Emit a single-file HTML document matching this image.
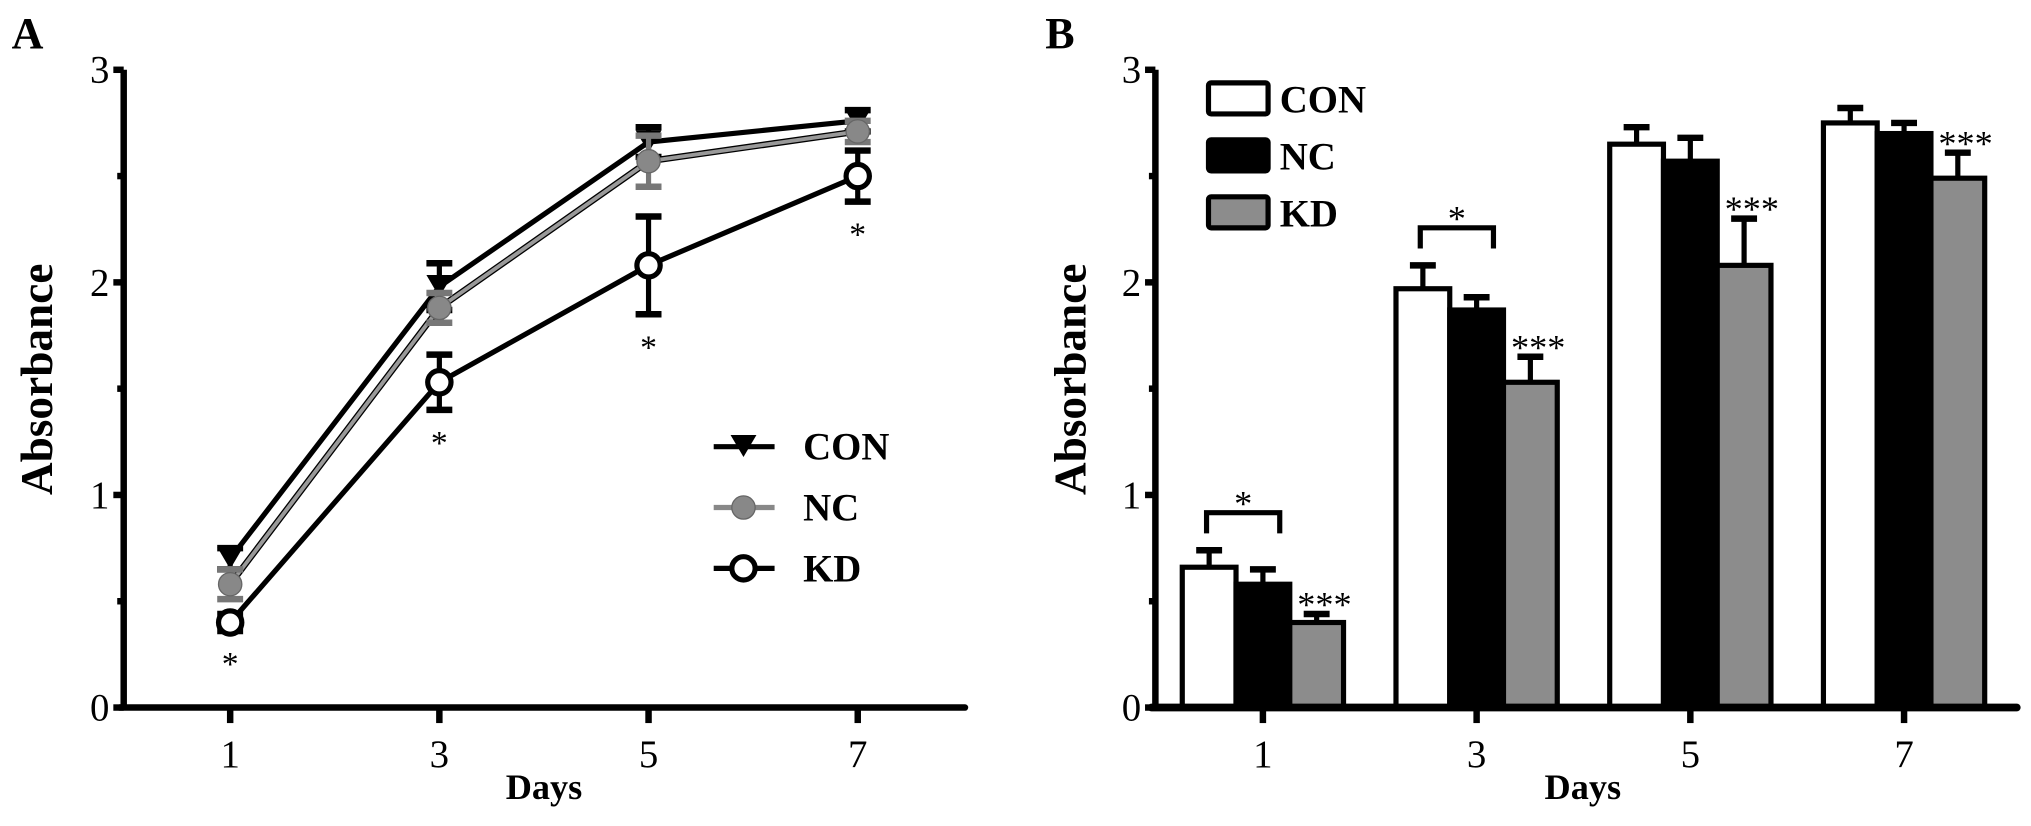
<!DOCTYPE html>
<html><head><meta charset="utf-8"><style>
html,body{margin:0;padding:0;background:#fff;}
svg{display:block;font-family:"Liberation Serif",serif;}
</style></head><body>
<svg id="fig" width="2031" height="826" viewBox="0 0 1568 638" preserveAspectRatio="none" xmlns="http://www.w3.org/2000/svg"></svg>
<script>
const days=[1,3,5,7];
const series=["CON","NC","KD"];
const conVals=[0.70,1.98,2.66,2.76];
const ncVals=[0.58,1.88,2.57,2.71];
const kdVals=[0.40,1.53,2.08,2.50];
const conErr=[0.05,0.11,0.07,0.05];
const ncErr=[0.07,0.07,0.12,0.05];
const kdErr=[0.04,0.13,0.23,0.12];
const barCon=[0.66,1.97,2.65,2.75];
const barNc=[0.58,1.87,2.57,2.70];
const barKd=[0.40,1.53,2.08,2.49];
const barConErr=[0.08,0.11,0.08,0.07];
const barNcErr=[0.07,0.06,0.11,0.05];
const barKdErr=[0.04,0.12,0.22,0.12];
const yTicks=[0,1,2,3];
const yMinor=[0.5,1.5,2.5];
const lineAsterisk=["*","*","*","*"];

const NS="http://www.w3.org/2000/svg";
const svg=document.getElementById('fig');
function mk(tag,attrs,parent){const e=document.createElementNS(NS,tag);for(const k in attrs)e.setAttribute(k,attrs[k]);(parent||svg).appendChild(e);return e;}
function txt(x,y,s,size,weight,anchor,parent){const t=mk('text',{x:x,y:y,'font-size':size,'font-weight':weight||'normal','text-anchor':anchor||'middle',fill:'#000'},parent);t.textContent=s;return t;}

const y0=546.5, unit=164.2;
function Y(v){return y0-v*unit;}
// Panel A
const axA=95.5;
function XA(d){return 177.7+(d-1)/2*161.5;}
const gA=mk('g',{});


const lblA=txt(9,37,"A",34,'bold','start',gA);


const yaxA=mk('line',{x1:axA,y1:Y(3),x2:axA,y2:y0+2,stroke:'#000','stroke-width':5},gA);


const xaxA=mk('line',{x1:axA-3,y1:y0,x2:745,y2:y0,stroke:'#000','stroke-width':5,'stroke-linecap':'round'},gA);


yTicks.forEach(v=>{mk('line',{x1:axA-8,y1:Y(v),x2:axA,y2:Y(v),stroke:'#000','stroke-width':5},gA);
 const t=txt(axA-11,Y(v)+10,String(v),30,'normal','end',gA);});
yMinor.forEach(v=>mk('line',{x1:axA-5,y1:Y(v),x2:axA,y2:Y(v),stroke:'#000','stroke-width':5},gA));
days.forEach(d=>{mk('line',{x1:XA(d),y1:y0,x2:XA(d),y2:y0+12,stroke:'#000','stroke-width':5},gA);
 const t=txt(XA(d),y0+46,String(d),30,'normal','middle',gA);});
const xtA=txt(420,617,"Days",28,'bold','middle',gA);


const ytA=txt(0,0,"Absorbance",35,'bold','middle',gA);
ytA.setAttribute('transform','translate(40,293) rotate(-90)');



function errBar(x,v,e,color,g){
 mk('line',{x1:x,y1:Y(v+e),x2:x,y2:Y(v-e),stroke:color,'stroke-width':4},g);
 mk('line',{x1:x-10,y1:Y(v+e),x2:x+10,y2:Y(v+e),stroke:color,'stroke-width':5},g);
 mk('line',{x1:x-10,y1:Y(v-e),x2:x+10,y2:Y(v-e),stroke:color,'stroke-width':5},g);}
function marker(kind,x,y,g){
 if(kind==='CON')return mk('path',{d:`M${x-10},${y-9} L${x+10},${y-9} L${x},${y+8} Z`,fill:'#000'},g);
 if(kind==='NC')return mk('circle',{cx:x,cy:y,r:9,fill:'#888',stroke:'#666','stroke-width':1},g);
 return mk('circle',{cx:x,cy:y,r:9,fill:'#fff',stroke:'#000','stroke-width':4},g);}
const lineDefs=[["KD",kdVals,kdErr,'#000'],["CON",conVals,conErr,'#000'],["NC",ncVals,ncErr,'#888']];
lineDefs.forEach(([name,vals,errs,col])=>{
 const g=mk('g',{},gA);
 
 
 const pts=vals.map((v,i)=>XA(days[i])+','+Y(v)).join(' ');
 if(name==='NC'){mk('polyline',{points:pts,fill:'none',stroke:'#000','stroke-width':5},g);mk('polyline',{points:pts,fill:'none',stroke:'#999','stroke-width':3},g);}
 else mk('polyline',{points:pts,fill:'none',stroke:col,'stroke-width':4},g);
 vals.forEach((v,i)=>{errBar(XA(days[i]),v,errs[i],name==='NC'?'#777':'#000',g);
  const m=marker(name,XA(days[i]),Y(v),g);
  
  });
});
kdVals.forEach((v,i)=>{const t=txt(XA(days[i]),Y(v-kdErr[i])+34,lineAsterisk[i],26,'normal','middle',gA);
 });
// legend A
const legA=mk('g',{},gA);


series.forEach((s,i)=>{const y=345+i*47;
 const e=mk('g',{},legA);
 
 
 if(s==='NC'){mk('line',{x1:551,y1:y,x2:598,y2:y,stroke:'#888','stroke-width':4},e);}
 else mk('line',{x1:551,y1:y,x2:598,y2:y,stroke:'#000','stroke-width':4},e);
 marker(s,574,y,e);
 txt(620,y+10,s,30,'bold','start',e);});

// Panel B
const axB=892;
function XB(d){return 975+(d-1)/2*165;}
const bw=41.5;
const gB=mk('g',{});


const lblB=txt(807,37,"B",34,'bold','start',gB);


const barSets=[["CON",barCon,barConErr,'#fff'],["NC",barNc,barNcErr,'#000'],["KD",barKd,barKdErr,'#8c8c8c']];
barSets.forEach(([name,vals,errs,fill],j)=>{
 vals.forEach((v,i)=>{const x=XB(days[i])-1.5*bw+j*bw;
  errBar(x+bw/2,v,errs[i],'#000',gB);
  const r=mk('rect',{x:x,y:Y(v),width:bw,height:y0-Y(v),fill:fill,stroke:'#000','stroke-width':4},gB);
  
  
 });});
const yaxB=mk('line',{x1:axB,y1:Y(3),x2:axB,y2:y0+2,stroke:'#000','stroke-width':5},gB);


const xaxB=mk('line',{x1:axB-3,y1:y0,x2:1557,y2:y0,stroke:'#000','stroke-width':6,'stroke-linecap':'round'},gB);


yTicks.forEach(v=>{mk('line',{x1:axB-8,y1:Y(v),x2:axB,y2:Y(v),stroke:'#000','stroke-width':5},gB);
 const t=txt(axB-11,Y(v)+10,String(v),30,'normal','end',gB);});
yMinor.forEach(v=>mk('line',{x1:axB-5,y1:Y(v),x2:axB,y2:Y(v),stroke:'#000','stroke-width':5},gB));
days.forEach(d=>{mk('line',{x1:XB(d),y1:y0,x2:XB(d),y2:y0+12,stroke:'#000','stroke-width':5},gB);
 const t=txt(XB(d),y0+46,String(d),30,'normal','middle',gB);});
const xtB=txt(1222,617,"Days",28,'bold','middle',gB);


const ytB=txt(0,0,"Absorbance",35,'bold','middle',gB);
ytB.setAttribute('transform','translate(838,293) rotate(-90)');


// significance
barKd.forEach((v,i)=>{const x=XB(days[i])+bw;
 const t=txt(x+6,Y(v+barKdErr[i])+2,"***",28,'normal','middle',gB);
 });
[0,1].forEach(i=>{const top=barCon[i]+barConErr[i];
 const yb=Y(top)-29, x1=XB(days[i])-bw-2, x2=XB(days[i])+13;
 const p=mk('path',{d:`M${x1},${yb+16} L${x1},${yb} L${x2},${yb} L${x2},${yb+16}`,fill:'none',stroke:'#000','stroke-width':4},gB);
 
 txt((x1+x2)/2,yb+2,"*",28,'normal','middle',gB);});
// legend B
const legB=mk('g',{},gB);


[['CON','#fff'],['NC','#000'],['KD','#8c8c8c']].forEach(([s,f],i)=>{const y=64+i*44;
 const e=mk('g',{},legB);
 
 
 mk('rect',{x:933,y:y,width:46,height:24,fill:f,stroke:'#000','stroke-width':4,rx:2},e);
 txt(988,y+23,s,30,'bold','start',e);});
</script>
</body></html>
